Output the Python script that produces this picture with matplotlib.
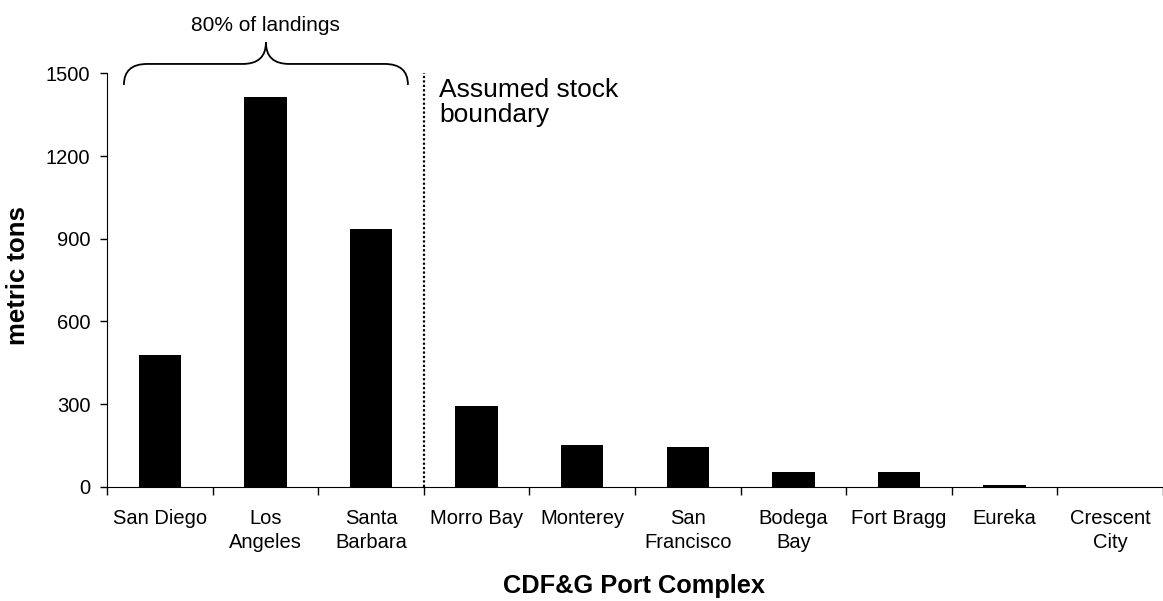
import matplotlib
matplotlib.use("Agg")
import matplotlib.pyplot as plt
from matplotlib.path import Path
from matplotlib.patches import PathPatch

plt.rcParams['font.family'] = ['Liberation Sans', 'DejaVu Sans']

ports = ["San Diego", "Los\nAngeles", "Santa\nBarbara", "Morro Bay", "Monterey",
         "San\nFrancisco", "Bodega\nBay", "Fort Bragg", "Eureka", "Crescent\nCity"]
tons = [478, 1413, 935, 293, 150, 144, 54, 53, 7, 0]
yticks = [0, 300, 600, 900, 1200, 1500]

fig = plt.figure(figsize=(11.63, 6.01), dpi=100)
ax = fig.add_axes([0.092, 0.19, 0.908, 0.688])

x = list(range(len(ports)))
ax.bar(x, tons, width=0.4, color='black')

ax.set_xlim(-0.5, len(ports) - 0.5)
ax.set_ylim(0, 1500)
ax.set_yticks(yticks)
ax.set_xticks(x)
ax.set_xticklabels(ports, fontsize=14.5, linespacing=1.35)
ax.set_xticks([i - 0.5 for i in range(len(ports) + 1)], minor=True)
ax.tick_params(axis='x', which='major', length=0, pad=16)
ax.tick_params(axis='x', which='minor', length=6, width=1)
ax.tick_params(axis='y', length=5, width=1, labelsize=14.5, pad=7)

for s in ['top', 'right']:
    ax.spines[s].set_visible(False)

# 坐标轴标题
fig.text(18 / 1163, 1 - 276 / 601, "metric tons", fontsize=18.5, fontweight='bold',
         rotation=90, ha='center', va='center')
fig.text(634 / 1163, 1 - 586 / 601, "CDF&G Port Complex", fontsize=18.3,
         fontweight='bold', ha='center', va='center')

# 边界线
ax.plot([2.5, 2.5], [0, 1500], color='black', linestyle=(0, (1, 1)), linewidth=1.6)
ax.text(2.645, 1482, "Assumed stock\nboundary", fontsize=19, va='top', ha='left',
        linespacing=1.05)

# 大括号
x0, x1 = -0.34, 2.35
xc = (x0 + x1) / 2
y0, yh, ypk = 1458, 1534, 1612
d = 0.22
verts = [(x0, y0), (x0, yh), (x0 + d, yh),
         (xc - d, yh),
         (xc, yh), (xc, ypk),
         (xc, yh), (xc + d, yh),
         (x1 - d, yh),
         (x1, yh), (x1, y0)]
codes = [Path.MOVETO, Path.CURVE3, Path.CURVE3,
         Path.LINETO,
         Path.CURVE3, Path.CURVE3,
         Path.CURVE3, Path.CURVE3,
         Path.LINETO,
         Path.CURVE3, Path.CURVE3]
ax.add_patch(PathPatch(Path(verts, codes), fill=False, lw=1.3, clip_on=False))
ax.text(xc, 1672, "80% of landings", fontsize=15, ha='center', va='center')

plt.savefig("out.png", dpi=100)
